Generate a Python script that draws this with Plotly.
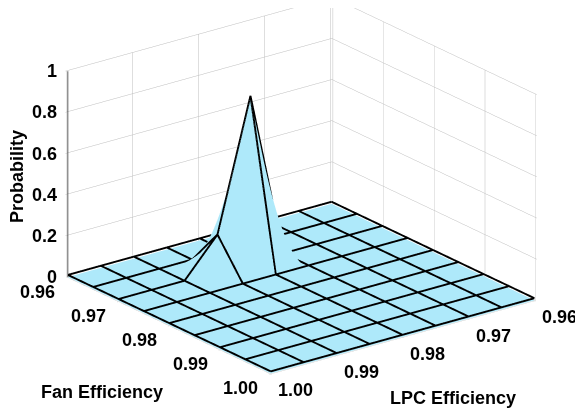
import plotly.graph_objects as go

lpc_eff = [0.96, 0.965, 0.97, 0.975, 0.98, 0.985, 0.99, 0.995, 1.00]
fan_eff = [0.96, 0.965, 0.97, 0.975, 0.98, 0.985, 0.99, 0.995, 1.00]
# rows = fan efficiency, columns = LPC efficiency
probability = [
    [0, 0, 0, 0, 0, 0, 0, 0, 0],
    [0, 0, 0, 0, 0, 0, 0, 0, 0],
    [0, 0, 0, 0, 0.81, 0.18, 0, 0, 0],
    [0, 0, 0, 0, 0, 0, 0, 0, 0],
    [0, 0, 0, 0, 0, 0, 0, 0, 0],
    [0, 0, 0, 0, 0, 0, 0, 0, 0],
    [0, 0, 0, 0, 0, 0, 0, 0, 0],
    [0, 0, 0, 0, 0, 0, 0, 0, 0],
    [0, 0, 0, 0, 0, 0, 0, 0, 0],
]
xy_ticks = [0.96, 0.97, 0.98, 0.99, 1.00]
xy_ticktext = ["0.96", "0.97", "0.98", "0.99", "1.00"]
z_ticks = [0, 0.2, 0.4, 0.6, 0.8, 1]
z_ticktext = ["0", "0.2", "0.4", "0.6", "0.8", "1"]

FILL = "#AEE9FA"
LINE_LIFT = 0.010  # tiny lift so edge lines are not hidden by the surface
PAD = 0.0002       # tiny range padding so boundary edge lines are not clipped
font = dict(family="Liberation Sans, Arial, sans-serif", size=18, color="black", weight="bold")

fig = go.Figure()
fig.add_trace(go.Surface(
    x=lpc_eff, y=fan_eff, z=probability,
    colorscale=[[0, FILL], [1, FILL]], showscale=False,
    lighting=dict(ambient=1, diffuse=0, specular=0, fresnel=0, roughness=1),
    hoverinfo="skip",
    contours=dict(x=dict(highlight=False), y=dict(highlight=False), z=dict(highlight=False)),
))

# mesh edges drawn from the same grid
lx, ly, lz = [], [], []
for i, f in enumerate(fan_eff):
    for j, l in enumerate(lpc_eff):
        lx.append(l); ly.append(f); lz.append(probability[i][j] + LINE_LIFT)
    lx.append(None); ly.append(None); lz.append(None)
for j, l in enumerate(lpc_eff):
    for i, f in enumerate(fan_eff):
        lx.append(l); ly.append(f); lz.append(probability[i][j] + LINE_LIFT)
    lx.append(None); ly.append(None); lz.append(None)
fig.add_trace(go.Scatter3d(x=lx, y=ly, z=lz, mode="lines",
                           line=dict(color="black", width=3.8),
                           hoverinfo="skip", showlegend=False))

# z axis line on the front-left corner
fig.add_trace(go.Scatter3d(x=[lpc_eff[-1]] * 2, y=[fan_eff[0]] * 2, z=[z_ticks[0], z_ticks[-1]],
                           mode="lines", line=dict(color="#333333", width=1.5),
                           hoverinfo="skip", showlegend=False))

axis_common = dict(
    showbackground=False, gridcolor="#bdbdbd", gridwidth=1,
    zeroline=False, ticks="", showline=False,
    showticklabels=False, showspikes=False, title=dict(text=""),
)

ann = []
for v, t in zip(xy_ticks, xy_ticktext):
    ann.append(dict(x=1.00, y=v, z=0, text=t, showarrow=False, font=font,
                    xshift=-30, yshift=-15))
    ann.append(dict(x=v, y=1.00, z=0, text=t, showarrow=False, font=font,
                    xshift=25, yshift=-17))
for v, t in zip(z_ticks, z_ticktext):
    ann.append(dict(x=1.00, y=0.96, z=v, text=t, showarrow=False, font=font,
                    xanchor="right", xshift=-9))
ann.append(dict(x=1.00, y=0.98, z=0, text="Fan Efficiency", showarrow=False, font=font,
                xshift=-67, yshift=-67))
ann.append(dict(x=0.98, y=1.00, z=0, text="LPC Efficiency", showarrow=False, font=font,
                xshift=50, yshift=-61))
ann.append(dict(x=1.00, y=0.96, z=0.49, text="Probability", showarrow=False, font=font,
                textangle=-90, xshift=-51))

S = 1.615
fig.update_layout(
    width=583, height=415,
    margin=dict(l=0, r=0, t=0, b=0),
    paper_bgcolor="white",
    font=font,
    scene=dict(
        xaxis=dict(range=[0.96 - PAD, 1.0 + PAD], tickvals=xy_ticks, **axis_common),
        yaxis=dict(range=[0.96 - PAD, 1.0 + PAD], tickvals=xy_ticks, **axis_common),
        zaxis=dict(range=[-0.003, 1], tickvals=z_ticks[1:], **axis_common),
        aspectmode="manual",
        aspectratio=dict(x=1 * S, y=1.007 * S, z=0.661 * S),
        camera=dict(
            projection=dict(type="orthographic"),
            eye=dict(x=0.571 * 2, y=0.741 * 2, z=0.2885 * 2),
            center=dict(x=0.01, y=0, z=-0.15),
            up=dict(x=0, y=0, z=1),
        ),
        domain=dict(x=[0, 1], y=[0, 1]),
        annotations=ann,
    ),
)
fig.write_html("out.html")
